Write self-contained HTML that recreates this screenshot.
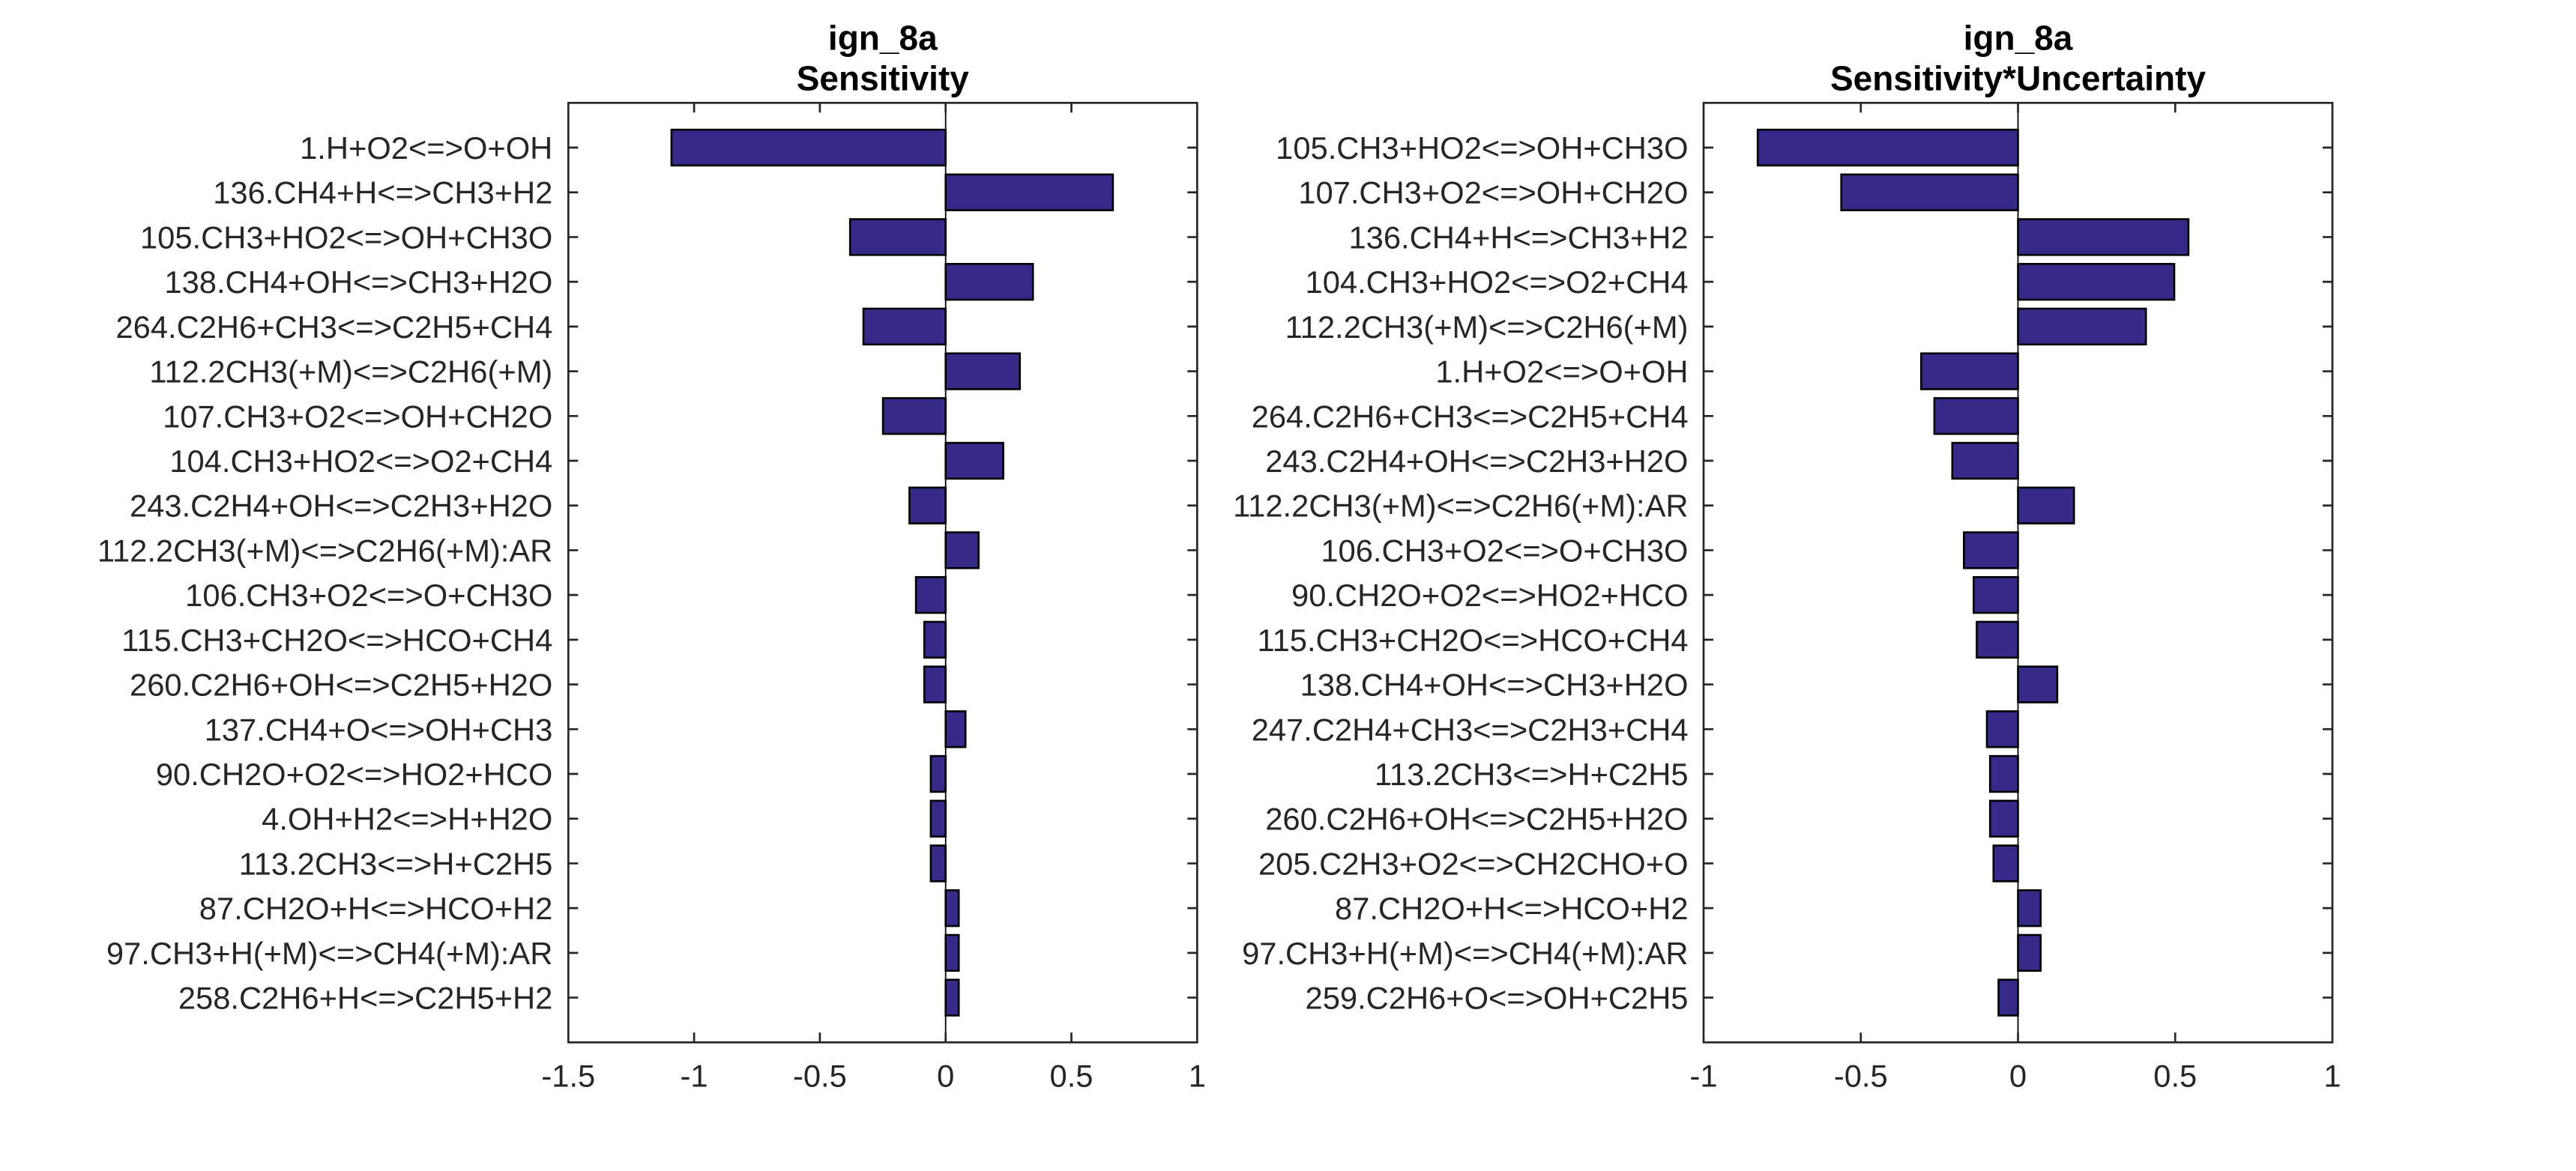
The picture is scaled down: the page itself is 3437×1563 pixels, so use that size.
<!DOCTYPE html>
<html>
<head>
<meta charset="utf-8">
<style>
html,body{margin:0;padding:0;background:#fff;}
svg{display:block;}
.t{font-family:"Liberation Sans",Arial,sans-serif;font-size:41.7px;fill:#262626;}
.ttl{font-family:"Liberation Sans",Arial,sans-serif;font-size:46px;font-weight:bold;fill:#000;}
</style>
</head>
<body>
<svg width="3437" height="1563" viewBox="0 0 3437 1563" xmlns="http://www.w3.org/2000/svg">
<rect x="0" y="0" width="3437" height="1563" fill="#fff"/>

<!-- ================= LEFT PANEL ================= -->
<g fill="#352A87" stroke="#000" stroke-width="2.6">
<rect x="895.9" y="173.12" width="365.8" height="47.77"/>
<rect x="1261.7" y="232.84" width="223.2" height="47.77"/>
<rect x="1134.2" y="292.55" width="127.5" height="47.77"/>
<rect x="1261.7" y="352.27" width="116.5" height="47.77"/>
<rect x="1152.0" y="411.98" width="109.7" height="47.77"/>
<rect x="1261.7" y="471.69" width="99.0" height="47.77"/>
<rect x="1178.1" y="531.41" width="83.6" height="47.77"/>
<rect x="1261.7" y="591.12" width="76.9" height="47.77"/>
<rect x="1213.4" y="650.84" width="48.3" height="47.77"/>
<rect x="1261.7" y="710.55" width="44.0" height="47.77"/>
<rect x="1222.1" y="770.26" width="39.6" height="47.77"/>
<rect x="1233.2" y="829.98" width="28.5" height="47.77"/>
<rect x="1233.2" y="889.69" width="28.5" height="47.77"/>
<rect x="1261.7" y="949.41" width="26.5" height="47.77"/>
<rect x="1241.9" y="1009.12" width="19.8" height="47.77"/>
<rect x="1241.9" y="1068.83" width="19.8" height="47.77"/>
<rect x="1241.9" y="1128.55" width="19.8" height="47.77"/>
<rect x="1261.7" y="1188.26" width="17.5" height="47.77"/>
<rect x="1261.7" y="1247.98" width="17.5" height="47.77"/>
<rect x="1261.7" y="1307.69" width="17.5" height="47.77"/>
</g>
<line x1="1261.7" y1="137.3" x2="1261.7" y2="1391.3" stroke="#000" stroke-width="1.8"/>

<g stroke="#262626" stroke-width="2.7" fill="none">
<rect x="758.3" y="137.3" width="839" height="1254"/>
<path d="M926.1 137.3V150.3M1093.9 137.3V150.3M1261.7 137.3V150.3M1429.5 137.3V150.3
M926.1 1391.3V1378.3M1093.9 1391.3V1378.3M1261.7 1391.3V1378.3M1429.5 1391.3V1378.3
M758.3 197.01h13M758.3 256.73h13M758.3 316.44h13M758.3 376.16h13M758.3 435.87h13M758.3 495.58h13M758.3 555.30h13M758.3 615.01h13M758.3 674.73h13M758.3 734.44h13M758.3 794.15h13M758.3 853.87h13M758.3 913.58h13M758.3 973.30h13M758.3 1033.01h13M758.3 1092.72h13M758.3 1152.44h13M758.3 1212.15h13M758.3 1271.87h13M758.3 1331.58h13
M1597.3 197.01h-13M1597.3 256.73h-13M1597.3 316.44h-13M1597.3 376.16h-13M1597.3 435.87h-13M1597.3 495.58h-13M1597.3 555.30h-13M1597.3 615.01h-13M1597.3 674.73h-13M1597.3 734.44h-13M1597.3 794.15h-13M1597.3 853.87h-13M1597.3 913.58h-13M1597.3 973.30h-13M1597.3 1033.01h-13M1597.3 1092.72h-13M1597.3 1152.44h-13M1597.3 1212.15h-13M1597.3 1271.87h-13M1597.3 1331.58h-13"/>
</g>

<g class="t" text-anchor="end">
<text x="737.3" y="212.0">1.H+O2&lt;=&gt;O+OH</text>
<text x="737.3" y="271.7">136.CH4+H&lt;=&gt;CH3+H2</text>
<text x="737.3" y="331.4">105.CH3+HO2&lt;=&gt;OH+CH3O</text>
<text x="737.3" y="391.2">138.CH4+OH&lt;=&gt;CH3+H2O</text>
<text x="737.3" y="450.9">264.C2H6+CH3&lt;=&gt;C2H5+CH4</text>
<text x="737.3" y="510.6">112.2CH3(+M)&lt;=&gt;C2H6(+M)</text>
<text x="737.3" y="570.3">107.CH3+O2&lt;=&gt;OH+CH2O</text>
<text x="737.3" y="630.0">104.CH3+HO2&lt;=&gt;O2+CH4</text>
<text x="737.3" y="689.7">243.C2H4+OH&lt;=&gt;C2H3+H2O</text>
<text x="737.3" y="749.4">112.2CH3(+M)&lt;=&gt;C2H6(+M):AR</text>
<text x="737.3" y="809.2">106.CH3+O2&lt;=&gt;O+CH3O</text>
<text x="737.3" y="868.9">115.CH3+CH2O&lt;=&gt;HCO+CH4</text>
<text x="737.3" y="928.6">260.C2H6+OH&lt;=&gt;C2H5+H2O</text>
<text x="737.3" y="988.3">137.CH4+O&lt;=&gt;OH+CH3</text>
<text x="737.3" y="1048.0">90.CH2O+O2&lt;=&gt;HO2+HCO</text>
<text x="737.3" y="1107.7">4.OH+H2&lt;=&gt;H+H2O</text>
<text x="737.3" y="1167.4">113.2CH3&lt;=&gt;H+C2H5</text>
<text x="737.3" y="1227.2">87.CH2O+H&lt;=&gt;HCO+H2</text>
<text x="737.3" y="1286.9">97.CH3+H(+M)&lt;=&gt;CH4(+M):AR</text>
<text x="737.3" y="1346.6">258.C2H6+H&lt;=&gt;C2H5+H2</text>
</g>

<g class="t" text-anchor="middle">
<text x="758.3" y="1450.7">-1.5</text>
<text x="926.1" y="1450.7">-1</text>
<text x="1093.9" y="1450.7">-0.5</text>
<text x="1261.7" y="1450.7">0</text>
<text x="1429.5" y="1450.7">0.5</text>
<text x="1597.3" y="1450.7">1</text>
</g>

<g class="ttl" text-anchor="middle">
<text x="1177.8" y="66.7">ign_8a</text>
<text x="1177.8" y="120.5">Sensitivity</text>
</g>

<!-- ================= RIGHT PANEL ================= -->
<g fill="#352A87" stroke="#000" stroke-width="2.6">
<rect x="2345.2" y="173.12" width="347.3" height="47.77"/>
<rect x="2456.7" y="232.84" width="235.8" height="47.77"/>
<rect x="2692.5" y="292.55" width="227.4" height="47.77"/>
<rect x="2692.5" y="352.27" width="208.5" height="47.77"/>
<rect x="2692.5" y="411.98" width="170.7" height="47.77"/>
<rect x="2563.3" y="471.69" width="129.2" height="47.77"/>
<rect x="2580.9" y="531.41" width="111.6" height="47.77"/>
<rect x="2604.8" y="591.12" width="87.7" height="47.77"/>
<rect x="2692.5" y="650.84" width="74.7" height="47.77"/>
<rect x="2620.3" y="710.55" width="72.2" height="47.77"/>
<rect x="2633.3" y="770.26" width="59.2" height="47.77"/>
<rect x="2637.5" y="829.98" width="55.0" height="47.77"/>
<rect x="2692.5" y="889.69" width="52.4" height="47.77"/>
<rect x="2651.0" y="949.41" width="41.5" height="47.77"/>
<rect x="2655.2" y="1009.12" width="37.3" height="47.77"/>
<rect x="2655.2" y="1068.83" width="37.3" height="47.77"/>
<rect x="2659.8" y="1128.55" width="32.7" height="47.77"/>
<rect x="2692.5" y="1188.26" width="30.2" height="47.77"/>
<rect x="2692.5" y="1247.98" width="30.2" height="47.77"/>
<rect x="2666.5" y="1307.69" width="26.0" height="47.77"/>
</g>
<line x1="2692.5" y1="137.3" x2="2692.5" y2="1391.3" stroke="#000" stroke-width="1.8"/>

<g stroke="#262626" stroke-width="2.7" fill="none">
<rect x="2273" y="137.3" width="839" height="1254"/>
<path d="M2482.75 137.3V150.3M2692.5 137.3V150.3M2902.25 137.3V150.3
M2482.75 1391.3V1378.3M2692.5 1391.3V1378.3M2902.25 1391.3V1378.3
M2273 197.01h13M2273 256.73h13M2273 316.44h13M2273 376.16h13M2273 435.87h13M2273 495.58h13M2273 555.30h13M2273 615.01h13M2273 674.73h13M2273 734.44h13M2273 794.15h13M2273 853.87h13M2273 913.58h13M2273 973.30h13M2273 1033.01h13M2273 1092.72h13M2273 1152.44h13M2273 1212.15h13M2273 1271.87h13M2273 1331.58h13
M3112 197.01h-13M3112 256.73h-13M3112 316.44h-13M3112 376.16h-13M3112 435.87h-13M3112 495.58h-13M3112 555.30h-13M3112 615.01h-13M3112 674.73h-13M3112 734.44h-13M3112 794.15h-13M3112 853.87h-13M3112 913.58h-13M3112 973.30h-13M3112 1033.01h-13M3112 1092.72h-13M3112 1152.44h-13M3112 1212.15h-13M3112 1271.87h-13M3112 1331.58h-13"/>
</g>

<g class="t" text-anchor="end">
<text x="2252.5" y="212.0">105.CH3+HO2&lt;=&gt;OH+CH3O</text>
<text x="2252.5" y="271.7">107.CH3+O2&lt;=&gt;OH+CH2O</text>
<text x="2252.5" y="331.4">136.CH4+H&lt;=&gt;CH3+H2</text>
<text x="2252.5" y="391.2">104.CH3+HO2&lt;=&gt;O2+CH4</text>
<text x="2252.5" y="450.9">112.2CH3(+M)&lt;=&gt;C2H6(+M)</text>
<text x="2252.5" y="510.6">1.H+O2&lt;=&gt;O+OH</text>
<text x="2252.5" y="570.3">264.C2H6+CH3&lt;=&gt;C2H5+CH4</text>
<text x="2252.5" y="630.0">243.C2H4+OH&lt;=&gt;C2H3+H2O</text>
<text x="2252.5" y="689.7">112.2CH3(+M)&lt;=&gt;C2H6(+M):AR</text>
<text x="2252.5" y="749.4">106.CH3+O2&lt;=&gt;O+CH3O</text>
<text x="2252.5" y="809.2">90.CH2O+O2&lt;=&gt;HO2+HCO</text>
<text x="2252.5" y="868.9">115.CH3+CH2O&lt;=&gt;HCO+CH4</text>
<text x="2252.5" y="928.6">138.CH4+OH&lt;=&gt;CH3+H2O</text>
<text x="2252.5" y="988.3">247.C2H4+CH3&lt;=&gt;C2H3+CH4</text>
<text x="2252.5" y="1048.0">113.2CH3&lt;=&gt;H+C2H5</text>
<text x="2252.5" y="1107.7">260.C2H6+OH&lt;=&gt;C2H5+H2O</text>
<text x="2252.5" y="1167.4">205.C2H3+O2&lt;=&gt;CH2CHO+O</text>
<text x="2252.5" y="1227.2">87.CH2O+H&lt;=&gt;HCO+H2</text>
<text x="2252.5" y="1286.9">97.CH3+H(+M)&lt;=&gt;CH4(+M):AR</text>
<text x="2252.5" y="1346.6">259.C2H6+O&lt;=&gt;OH+C2H5</text>
</g>

<g class="t" text-anchor="middle">
<text x="2273" y="1450.7">-1</text>
<text x="2482.75" y="1450.7">-0.5</text>
<text x="2692.5" y="1450.7">0</text>
<text x="2902.25" y="1450.7">0.5</text>
<text x="3112" y="1450.7">1</text>
</g>

<g class="ttl" text-anchor="middle">
<text x="2692.5" y="66.7">ign_8a</text>
<text x="2692.5" y="120.5">Sensitivity*Uncertainty</text>
</g>
</svg>
</body>
</html>
